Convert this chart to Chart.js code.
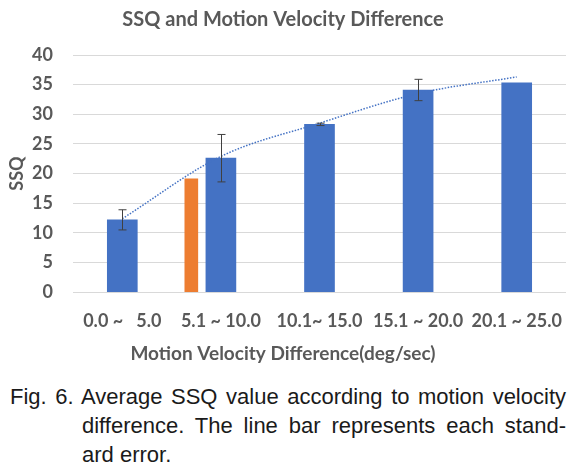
<!DOCTYPE html>
<html>
<head>
<meta charset="utf-8">
<script src="https://cdn.jsdelivr.net/npm/chart.js@4"></script>
<style>
  html, body { margin: 0; padding: 0; background: #ffffff; }
  #wrap { position: relative; width: 583px; height: 472px; overflow: hidden; }
  #chart { position: absolute; left: 0; top: 0; }
  .cap { position: absolute; font-family: "Liberation Sans", Arial, sans-serif; font-size: 22px; color: #1a1a1a; white-space: nowrap; line-height: 26px; }
  .just { text-align: justify; text-align-last: justify; white-space: normal; }
</style>
</head>
<body>
<div id="wrap">
  <canvas id="chart" width="583" height="375"></canvas>
  <div class="cap just" style="left:10px; top:384px; width:556px;">Fig. 6. Average SSQ value according to motion velocity</div>
  <div class="cap just" style="left:82px; top:413px; width:484px;">difference. The line bar represents each stand-</div>
  <div class="cap" style="left:82px; top:442px;">ard error.</div>
</div>
<script>
// ---- data ----
const categories = ["0.0 ~   5.0", "5.1 ~ 10.0", "10.1~ 15.0", "15.1 ~ 20.0", "20.1 ~ 25.0"];
const ssqMeans   = [12.2, 22.6, 28.3, 34.1, 35.3];
const ssqErrors  = [1.7, 4.0, 0.2, 1.8, 0];
const trendValues = [12.4, 22.9, 28.5, 33.5, 36.3];
const extraBarPos = [0.7];     // in category-index units (within "5.1 ~ 10.0")
const extraBarValue = [19.1];
const yTicks = { min: 0, max: 40, step: 5 };

const textGray = '#595959';

const errorBarPlugin = {
  id: 'errorBars',
  afterDatasetsDraw(chart) {
    const ctx = chart.ctx;
    const xs = chart.scales.x, ys = chart.scales.y;
    ctx.save();
    ctx.strokeStyle = '#404040';
    ctx.lineWidth = 1;
    ssqMeans.forEach((v, i) => {
      const e = ssqErrors[i];
      if (!e) return;
      const px = Math.round(xs.getPixelForValue(i)) + 0.5;
      const top = ys.getPixelForValue(v + e);
      const bot = ys.getPixelForValue(v - e);
      ctx.beginPath();
      ctx.moveTo(px, top); ctx.lineTo(px, bot);
      ctx.moveTo(px - 4, top); ctx.lineTo(px + 4, top);
      ctx.moveTo(px - 4, bot); ctx.lineTo(px + 4, bot);
      ctx.stroke();
    });
    ctx.restore();
  }
};

new Chart(document.getElementById('chart'), {
  type: 'bar',
  data: {
    datasets: [
      {
        type: 'line',
        label: 'Trend',
        data: trendValues.map((v, i) => ({ x: i, y: v })),
        borderColor: '#4472c4',
        borderWidth: 1.5,
        borderDash: [1.5, 1.5],
        pointRadius: 0,
        fill: false,
        cubicInterpolationMode: 'monotone',
        order: 0
      },
      {
        label: 'SSQ',
        data: ssqMeans.map((v, i) => ({ x: i, y: v })),
        backgroundColor: '#4472c4',
        barThickness: 30,
        grouped: false,
        order: 1
      },
      {
        label: 'SSQ (sub)',
        data: extraBarPos.map((p, i) => ({ x: p, y: extraBarValue[i] })),
        backgroundColor: '#ed7d31',
        barThickness: 13,
        grouped: false,
        order: 1
      }
    ]
  },
  options: {
    responsive: false,
    animation: false,
    layout: { padding: { left: 0, right: 17, top: 0, bottom: 0 } },
    plugins: {
      legend: { display: false },
      tooltip: { enabled: false },
      title: {
        display: true,
        text: 'SSQ and Motion Velocity Difference',
        color: textGray,
        font: { family: 'Lato', size: 20, weight: 'bold' },
        padding: { top: 8, bottom: 23 }
      },
      subtitle: {
        display: true,
        position: 'bottom',
        text: 'Motion Velocity Difference(deg/sec)',
        color: textGray,
        font: { family: 'Lato', size: 19, weight: 'bold' },
        padding: { top: 10, bottom: 10 }
      }
    },
    scales: {
      x: {
        type: 'linear',
        min: -0.5,
        max: categories.length - 0.5,
        offset: false,
        grid: { display: false, drawTicks: false },
        border: { display: false },
        afterBuildTicks(scale) { scale.ticks = categories.map((c, i) => ({ value: i })); },
        ticks: {
          color: textGray,
          font: { family: 'Lato', size: 18, weight: 'bold' },
          padding: 18,
          maxRotation: 0,
          autoSkip: false,
          callback: (v) => categories[v] !== undefined ? categories[v] : ''
        },
        afterFit(scale) { scale.height = 40; }
      },
      y: {
        min: yTicks.min,
        max: yTicks.max,
        grid: { color: '#d9d9d9', drawTicks: false },
        border: { display: false },
        ticks: {
          stepSize: yTicks.step,
          color: textGray,
          font: { family: 'Lato', size: 18, weight: 'bold' },
          padding: 20
        },
        title: {
          display: true,
          text: 'SSQ',
          color: textGray,
          font: { family: 'Lato', size: 18, weight: 'bold' },
          padding: { top: 6, bottom: 8 }
        },
        afterFit(scale) { scale.width = 73; }
      }
    }
  },
  plugins: [errorBarPlugin]
});
</script>
</body>
</html>
